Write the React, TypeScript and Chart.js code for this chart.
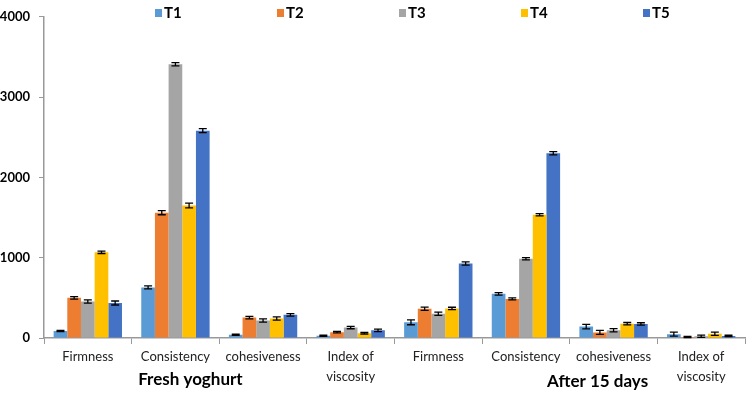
import React, { useEffect, useRef } from "react";
import { Chart, registerables } from "chart.js";

Chart.register(...registerables);

const categories: (string | string[])[] = [
  "Firmness", "Consistency", "cohesiveness", ["Index of", "viscosity"],
  "Firmness", "Consistency", "cohesiveness", ["Index of", "viscosity"],
];
const seriesNames = ["T1", "T2", "T3", "T4", "T5"];
const colors = ["#5B9BD5", "#ED7D31", "#A5A5A5", "#FFC000", "#4472C4"];

const t1 = [88, 630, 40, 28, 195, 550, 142, 48];
const t2 = [500, 1560, 254, 73, 365, 487, 70, 12];
const t3 = [455, 3410, 218, 130, 303, 987, 97, 22];
const t4 = [1067, 1650, 242, 60, 368, 1535, 178, 53];
const t5 = [436, 2582, 288, 95, 928, 2300, 175, 26];

const e1 = [8, 18, 8, 6, 30, 15, 28, 25];
const e2 = [15, 25, 15, 10, 20, 12, 25, 8];
const e3 = [20, 20, 20, 15, 20, 15, 20, 15];
const e4 = [15, 30, 20, 10, 15, 15, 15, 20];
const e5 = [25, 25, 15, 15, 20, 20, 15, 8];

const groupLabels = ["Fresh yoghurt", "After 15 days"];
const yTicks = [0, 1000, 2000, 3000, 4000];

const values = [t1, t2, t3, t4, t5];
const errors = [e1, e2, e3, e4, e5];

const FONT = "Lato, 'Open Sans', sans-serif";

const errorBarPlugin = {
  id: "errorBars",
  afterDatasetsDraw(chart: any) {
    const ctx = chart.ctx;
    const y = chart.scales.y;
    ctx.save();
    ctx.strokeStyle = "#000";
    ctx.lineWidth = 1.3;
    chart.data.datasets.forEach((ds: any, di: number) => {
      const meta = chart.getDatasetMeta(di);
      meta.data.forEach((bar: any, i: number) => {
        const v = values[di][i];
        const e = errors[di][i];
        const yt = y.getPixelForValue(v + e);
        const yb = y.getPixelForValue(Math.max(0, v - e));
        const x = bar.x;
        const cw = 4;
        ctx.beginPath();
        ctx.moveTo(x, yt);
        ctx.lineTo(x, yb);
        ctx.moveTo(x - cw, yt);
        ctx.lineTo(x + cw, yt);
        ctx.moveTo(x - cw, yb);
        ctx.lineTo(x + cw, yb);
        ctx.stroke();
      });
    });
    ctx.restore();
  },
};

const overlayPlugin = {
  id: "overlay",
  afterDraw(chart: any) {
    const ctx = chart.ctx;
    const area = chart.chartArea;
    const xs = chart.scales.x;
    ctx.save();
    // legend
    ctx.font = `bold 15px ${FONT}`;
    ctx.textBaseline = "middle";
    const startX = 155;
    const step = 122;
    seriesNames.forEach((name, i) => {
      const x = startX + i * step;
      ctx.fillStyle = colors[i];
      ctx.fillRect(x, 9, 7, 8);
      ctx.fillStyle = "#000";
      ctx.textAlign = "left";
      ctx.fillText(name, x + 9, 13);
    });
    // group labels
    ctx.font = `bold 17px ${FONT}`;
    ctx.textAlign = "center";
    ctx.fillStyle = "#000";
    const g1 = xs.getPixelForValue(1) + 15;
    const g2 = xs.getPixelForValue(6) - 16;
    ctx.fillText(groupLabels[0], g1, area.bottom + 42);
    ctx.fillText(groupLabels[1], g2, area.bottom + 44);
    ctx.restore();
  },
};

export default function App() {
  const ref = useRef<HTMLCanvasElement | null>(null);
  useEffect(() => {
    if (!ref.current) return;
    const chart = new Chart(ref.current, {
      type: "bar",
      data: {
        labels: categories,
        datasets: seriesNames.map((n, i) => ({
          label: n,
          data: values[i],
          backgroundColor: colors[i],
          borderColor: colors[i],
          borderWidth: 0,
          categoryPercentage: 0.78,
          barPercentage: 1.0,
        })),
      },
      options: {
        animation: false,
        responsive: false,
        maintainAspectRatio: false,
        layout: { padding: { top: 8, right: 5, left: 0, bottom: 0 } },
        plugins: { legend: { display: false }, tooltip: { enabled: false } },
        scales: {
          x: {
            grid: { drawOnChartArea: false, tickLength: 6, color: "#999" },
            border: { color: "#999", width: 1.5 },
            ticks: {
              font: { family: FONT, size: 13, lineHeight: 1.6 },
              color: "#222",
              padding: 2,
              maxRotation: 0,
              autoSkip: false,
            },
            afterFit(scale: any) { scale.height = 56; },
          },
          y: {
            min: 0,
            max: 4000,
            afterBuildTicks(scale: any) { scale.ticks = yTicks.map((v) => ({ value: v })); },
            grid: { drawOnChartArea: false, tickLength: 5, color: "#999" },
            border: { color: "#999", width: 1.5 },
            ticks: {
              font: { family: FONT, size: 13, weight: "bold" },
              color: "#000",
              padding: 9,
              callback: (v: any) => String(v),
            },
            afterFit(scale: any) { scale.width = 44; },
          },
        },
      },
      plugins: [errorBarPlugin, overlayPlugin],
    });
    return () => chart.destroy();
  }, []);
  return (
    <div style={{ position: "fixed", left: 0, top: 0, width: 750, height: 394, background: "#fff" }}>
      <canvas ref={ref} width={750} height={394} style={{ width: 750, height: 394 }} />
    </div>
  );
}
